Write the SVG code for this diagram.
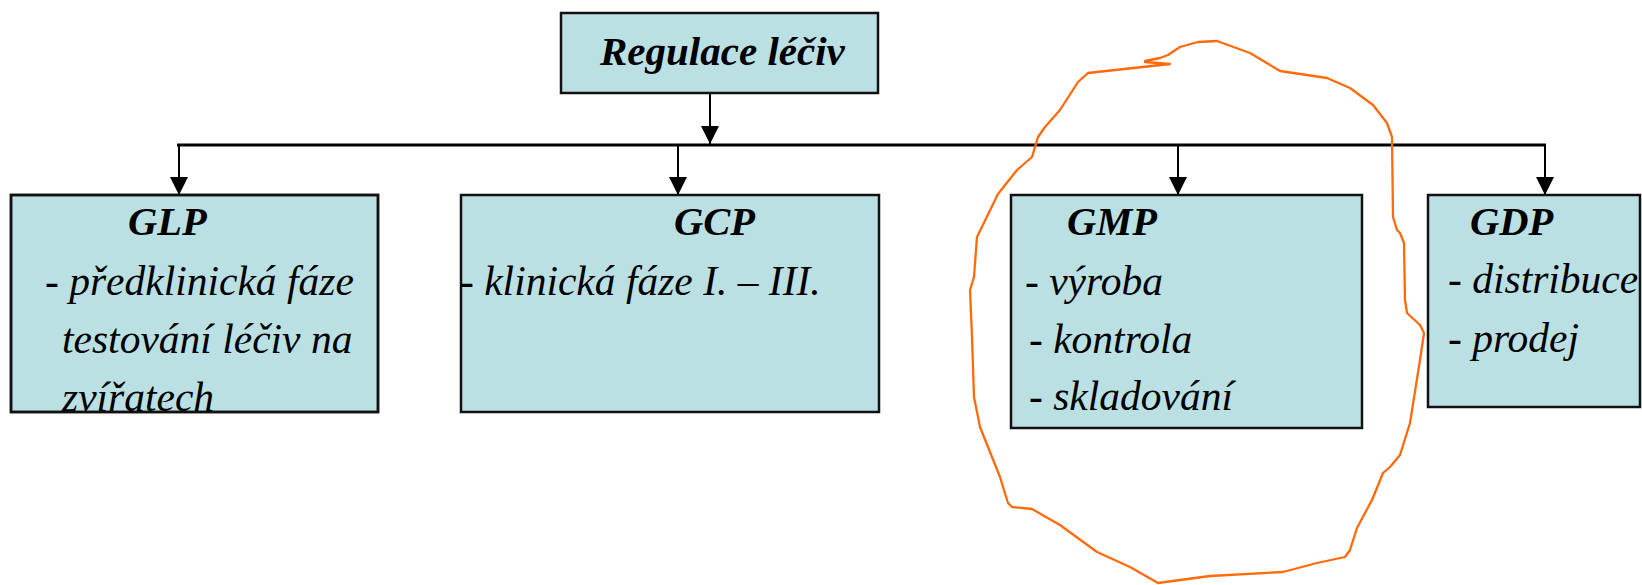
<svg xmlns="http://www.w3.org/2000/svg" width="1642" height="585" viewBox="0 0 1642 585">
  <style>
    .box { fill: #BBE0E3; stroke: #111; stroke-width: 2.5; }
    .head { font-family: "Liberation Serif", "Times New Roman", serif; font-style: italic; font-weight: bold; font-size: 40.5px; fill: #000; }
    .title { font-size: 41px; }
    .body { font-family: "Liberation Serif", "Times New Roman", serif; font-style: italic; font-size: 41.5px; fill: #000; }
    .wire { stroke: #000; fill: none; }
    .ink { fill: none; stroke: #FF6A0A; stroke-width: 2.3; stroke-linejoin: round; stroke-linecap: round; }
  </style>
  <defs>
    <marker id="arrow" markerUnits="userSpaceOnUse" markerWidth="18" markerHeight="18" refX="18" refY="9" orient="auto">
      <path d="M0,0 L18,9 L0,18 Z" fill="#000"/>
    </marker>
    <clipPath id="clipGLP">
      <rect x="11" y="195" width="367" height="217"/>
    </clipPath>
  </defs>

  <rect width="1642" height="585" fill="#fff"/>

  <!-- connectors -->
  <g id="connectors">
    <line class="wire" x1="710" y1="93" x2="710" y2="144" stroke-width="2" marker-end="url(#arrow)"/>
    <line class="wire" x1="177" y1="145" x2="1546" y2="145" stroke-width="3"/>
    <line class="wire" x1="179" y1="145" x2="179" y2="195" stroke-width="2" marker-end="url(#arrow)"/>
    <line class="wire" x1="678" y1="145" x2="678" y2="195" stroke-width="2" marker-end="url(#arrow)"/>
    <line class="wire" x1="1178" y1="145" x2="1178" y2="195" stroke-width="2" marker-end="url(#arrow)"/>
    <line class="wire" x1="1545" y1="145" x2="1545" y2="195" stroke-width="2" marker-end="url(#arrow)"/>
  </g>

  <!-- root node -->
  <g id="regulace">
    <rect class="box" x="561" y="13" width="317" height="80"/>
    <text class="head title" x="600" y="65">Regulace léčiv</text>
  </g>

  <!-- GLP -->
  <g id="glp">
    <rect class="box" x="11" y="195" width="367" height="217"/>
    <g clip-path="url(#clipGLP)">
      <text class="head" x="128" y="235">GLP</text>
      <text class="body" x="45" y="295">- předklinická fáze</text>
      <text class="body" x="62" y="353">testování léčiv na</text>
      <text class="body" x="62" y="411">zvířatech</text>
    </g>
    <rect x="11" y="195" width="367" height="217" fill="none" stroke="#111" stroke-width="2.5"/>
  </g>

  <!-- GCP -->
  <g id="gcp">
    <rect class="box" x="461" y="195" width="418" height="217"/>
    <text class="head" x="674" y="235">GCP</text>
    <text class="body" x="460" y="295">- klinická fáze I. – III.</text>
  </g>

  <!-- GMP -->
  <g id="gmp">
    <rect class="box" x="1011" y="195" width="351" height="233"/>
    <text class="head" x="1067" y="235">GMP</text>
    <text class="body" x="1025" y="295">- výroba</text>
    <text class="body" x="1029" y="353">- kontrola</text>
    <text class="body" x="1029" y="410">- skladování</text>
  </g>

  <!-- GDP -->
  <g id="gdp">
    <rect class="box" x="1428" y="195" width="212" height="212"/>
    <text class="head" x="1470" y="235">GDP</text>
    <text class="body" x="1448" y="293">- distribuce</text>
    <text class="body" x="1448" y="352">- prodej</text>
  </g>

  <!-- freehand loop around GMP -->
  <path id="loop" class="ink" d="M1145,61 L1160,58 L1168,55 L1180,47 L1198,42 L1217,41 L1250,53 L1280,71 L1327,78 L1350,88 L1373,105 L1387,123 L1392,137 L1393,217 L1397,230 L1400,233 L1404,243 L1405,300 L1407,313 L1420,325 L1424,333 L1420,360 L1410,423 L1400,455 L1390,467 L1383,473 L1372,500 L1357,528 L1350,550 L1345,557 L1317,563 L1283,572 L1210,576 L1158,583 L1130,567 L1097,552 L1060,525 L1032,509 L1012,507 L1008,503 L1000,477 L980,427 L974,397 L972,337 L970,290 L974,277 L977,237 L998,194 L1017,170 L1032,157 L1038,137 L1045,127 L1060,110 L1078,82 L1088,73 L1170,64 L1145,62"/>
</svg>
